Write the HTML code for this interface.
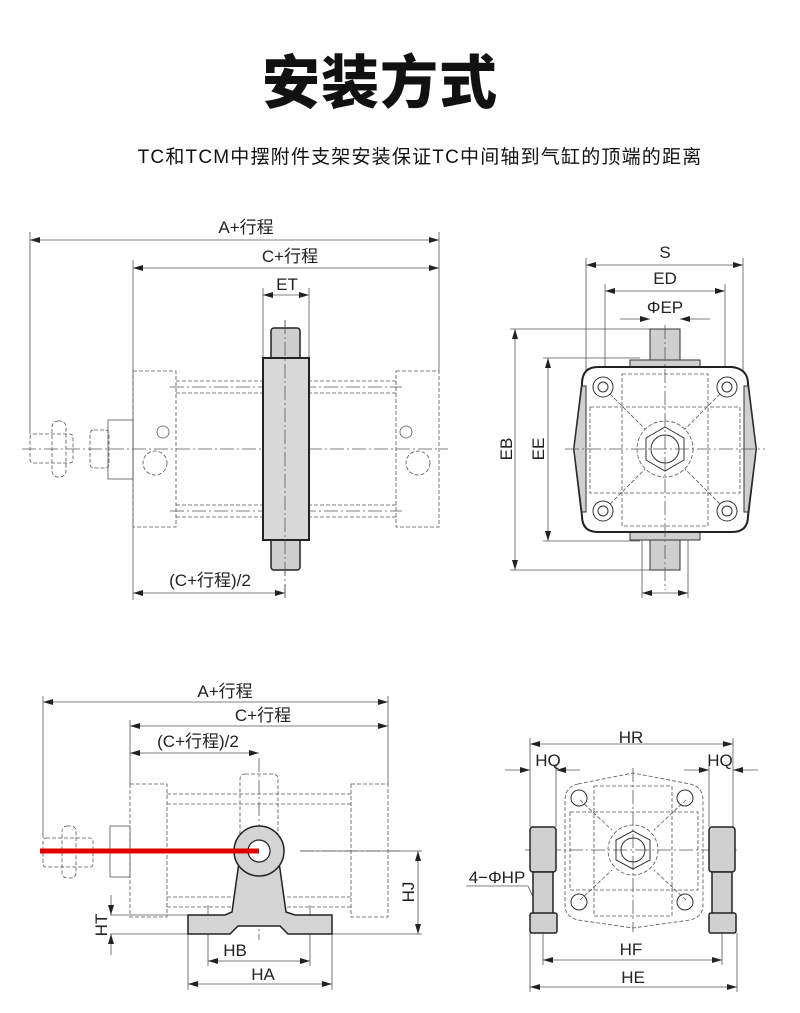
<!DOCTYPE html>
<html><head><meta charset="utf-8"><style>
html,body{margin:0;padding:0;background:#fff;}
body{width:800px;height:1013px;overflow:hidden;position:relative;font-family:"Liberation Sans","Noto Sans CJK SC",sans-serif;}
.t{position:absolute;left:-20px;width:800px;text-align:center;top:36px;font-size:58px;font-weight:900;color:#111;letter-spacing:1px;font-family:"Noto Sans CJK SC","WenQuanYi Zen Hei",sans-serif;}
.s{position:absolute;left:20px;width:800px;text-align:center;top:142px;font-size:19px;color:#111;letter-spacing:1.2px;}
svg{position:absolute;left:0;top:0}
</style></head><body>
<div class="t">安装方式</div>
<div class="s">TC和TCM中摆附件支架安装保证TC中间轴到气缸的顶端的距离</div>
<svg width="800" height="1013" viewBox="0 0 800 1013" font-family="Liberation Sans, Noto Sans CJK SC, sans-serif" font-size="17" fill="none" stroke="#333" stroke-width="1">
<defs>
<marker id="a" viewBox="0 0 10 6" refX="10" refY="3" markerWidth="10" markerHeight="6" orient="auto-start-reverse" markerUnits="userSpaceOnUse"><path d="M0,0L10,3L0,6z" fill="#222" stroke="none"/></marker>
</defs>
<g stroke="#555" stroke-width="0.8">
<line x1="30" y1="240" x2="439" y2="240" marker-start="url(#a)" marker-end="url(#a)"/>
<line x1="30" y1="232" x2="30" y2="434"/><line x1="439" y1="232" x2="439" y2="371"/>
<line x1="133" y1="268" x2="439" y2="268" marker-start="url(#a)" marker-end="url(#a)"/>
<line x1="133" y1="260" x2="133" y2="600"/>
<line x1="263" y1="288" x2="263" y2="358"/><line x1="309" y1="288" x2="309" y2="358"/>
<line x1="263" y1="295" x2="309" y2="295" marker-start="url(#a)" marker-end="url(#a)"/>
<line x1="133" y1="593" x2="285" y2="593" marker-start="url(#a)" marker-end="url(#a)"/>
<g stroke-dasharray="4,2">
<rect x="133" y="371" width="43" height="156"/><rect x="396" y="371" width="43" height="156"/>
<line x1="176" y1="381" x2="396" y2="381"/><line x1="176" y1="393" x2="396" y2="393"/>
<line x1="176" y1="505" x2="396" y2="505"/><line x1="176" y1="517" x2="396" y2="517"/>
<rect x="30" y="434" width="43" height="29" rx="3"/><rect x="52" y="421" width="14" height="56" rx="6"/>
<rect x="90" y="430" width="19" height="38" rx="4"/>
<circle cx="155" cy="463" r="12"/><circle cx="418" cy="463" r="12"/>
</g>
<rect x="108" y="420" width="25" height="59"/>
<g stroke-dasharray="14,3,2,3"><line x1="22" y1="449" x2="448" y2="449"/><line x1="285" y1="320" x2="285" y2="598"/>
<line x1="170" y1="387" x2="402" y2="387"/><line x1="170" y1="511" x2="402" y2="511"/></g>
<circle cx="163" cy="432" r="6"/><circle cx="406" cy="432" r="6"/>
</g>
<rect x="271" y="328" width="29" height="242" rx="3" fill="#cfcfcf" stroke="#222" stroke-width="1.5"/>
<rect x="263" y="358" width="46" height="182" fill="#d8d8d8" stroke="#222" stroke-width="2"/>
<line x1="285" y1="320" x2="285" y2="598" stroke="#555" stroke-dasharray="14,3,2,3" stroke-width="0.8"/>
<g fill="#222" stroke="none">
<text x="246" y="233" text-anchor="middle">A+行程</text>
<text x="290" y="262" text-anchor="middle">C+行程</text>
<text x="287" y="290" text-anchor="middle">ET</text>
<text x="210" y="586" text-anchor="middle">(C+行程)/2</text>
</g>
<g stroke="#555" stroke-width="0.8">
<line x1="586" y1="265" x2="743" y2="265" marker-start="url(#a)" marker-end="url(#a)"/>
<line x1="586" y1="258" x2="586" y2="440"/><line x1="743" y1="258" x2="743" y2="440"/>
<line x1="605" y1="291" x2="725" y2="291" marker-start="url(#a)" marker-end="url(#a)"/>
<line x1="605" y1="284" x2="605" y2="380"/><line x1="725" y1="284" x2="725" y2="380"/>
<line x1="620" y1="319" x2="650" y2="319" marker-end="url(#a)"/><line x1="710" y1="319" x2="680" y2="319" marker-end="url(#a)"/>
<line x1="510" y1="329" x2="660" y2="329"/><line x1="510" y1="570" x2="660" y2="570"/>
<line x1="515" y1="329" x2="515" y2="570" marker-start="url(#a)" marker-end="url(#a)"/>
<line x1="543" y1="358" x2="640" y2="358"/><line x1="543" y1="541" x2="640" y2="541"/>
<line x1="548" y1="358" x2="548" y2="541" marker-start="url(#a)" marker-end="url(#a)"/>
<line x1="642" y1="540" x2="642" y2="598"/><line x1="688" y1="540" x2="688" y2="598"/>
<line x1="642" y1="593" x2="688" y2="593" marker-start="url(#a)" marker-end="url(#a)"/>
</g>
<rect x="650" y="329" width="30" height="241" fill="#cfcfcf" stroke="#333"/>
<path d="M630,370 L630,360 L700,360 L700,370Z M630,530 L630,540 L700,540 L700,530Z" fill="#cfcfcf" stroke="#333"/>
<path d="M598,367 L732,367 Q748,369 748,384 L756,449 L748,516 Q748,532 732,532 L598,532 Q582,532 582,516 L574,449 L582,384 Q582,367 598,367Z" fill="#fff" stroke="#222" stroke-width="2"/>
<path d="M582,386 L574,449 L582,512 L586,512 L586,386Z M748,386 L756,449 L748,512 L744,512 L744,386Z" fill="#d0d0d0" stroke="#333"/>
<g stroke="#555" stroke-width="0.8" stroke-dasharray="4,2">
<rect x="622" y="374" width="86" height="152"/><rect x="590" y="407" width="150" height="86"/>
<circle cx="665" cy="449" r="28"/>
<line x1="610" y1="394" x2="645" y2="429"/><line x1="720" y1="394" x2="685" y2="429"/>
<line x1="610" y1="504" x2="645" y2="469"/><line x1="720" y1="504" x2="685" y2="469"/>
</g>
<g stroke="#333" stroke-width="1">
<polygon points="665,427 684,438 684,460 665,471 646,460 646,438"/>
<circle cx="665" cy="449" r="14"/>
<circle cx="603" cy="387" r="10"/><circle cx="603" cy="387" r="5"/>
<circle cx="727" cy="387" r="10"/><circle cx="727" cy="387" r="5"/>
<circle cx="603" cy="511" r="10"/><circle cx="603" cy="511" r="5"/>
<circle cx="727" cy="511" r="10"/><circle cx="727" cy="511" r="5"/>
</g>
<g stroke="#555" stroke-width="0.8" stroke-dasharray="14,3,2,3"><line x1="565" y1="449" x2="765" y2="449"/><line x1="665" y1="325" x2="665" y2="590"/></g>
<g fill="#222" stroke="none">
<text x="665" y="258" text-anchor="middle">S</text>
<text x="665" y="284" text-anchor="middle">ED</text>
<text x="665" y="313" text-anchor="middle">ΦEP</text>
<text transform="translate(512,449) rotate(-90)" text-anchor="middle">EB</text>
<text transform="translate(544,449) rotate(-90)" text-anchor="middle">EE</text>
</g>
<g stroke="#555" stroke-width="0.8">
<line x1="43" y1="702" x2="388" y2="702" marker-start="url(#a)" marker-end="url(#a)"/>
<line x1="43" y1="696" x2="43" y2="838"/><line x1="388" y1="696" x2="388" y2="784"/>
<line x1="130" y1="726" x2="388" y2="726" marker-start="url(#a)" marker-end="url(#a)"/>
<line x1="130" y1="720" x2="130" y2="784"/>
<line x1="130" y1="753" x2="259" y2="753" marker-start="url(#a)" marker-end="url(#a)"/>
<line x1="110" y1="915" x2="188" y2="915"/><line x1="110" y1="934" x2="188" y2="934"/>
<line x1="111" y1="895" x2="111" y2="915" marker-end="url(#a)"/><line x1="111" y1="955" x2="111" y2="934" marker-end="url(#a)"/>
<line x1="332" y1="934" x2="422" y2="934"/><line x1="300" y1="851" x2="422" y2="851"/>
<line x1="418" y1="851" x2="418" y2="934" marker-start="url(#a)" marker-end="url(#a)"/>
<line x1="208" y1="905" x2="208" y2="966"/><line x1="310" y1="905" x2="310" y2="966"/>
<line x1="208" y1="961" x2="310" y2="961" marker-start="url(#a)" marker-end="url(#a)"/>
<line x1="188" y1="934" x2="188" y2="990"/><line x1="332" y1="934" x2="332" y2="990"/>
<line x1="188" y1="984" x2="332" y2="984" marker-start="url(#a)" marker-end="url(#a)"/>
<g stroke-dasharray="4,2">
<rect x="130" y="784" width="37" height="133"/><rect x="351" y="784" width="37" height="133"/>
<line x1="167" y1="794" x2="351" y2="794"/><line x1="167" y1="804" x2="351" y2="804"/>
<line x1="167" y1="897" x2="351" y2="897"/><line x1="167" y1="907" x2="351" y2="907"/>
<rect x="240" y="774" width="38" height="70" rx="5"/>
<rect x="43" y="838" width="50" height="29" rx="3"/><rect x="62" y="826" width="14" height="52" rx="5"/>
</g>
<rect x="110" y="826" width="20" height="51"/>
<g stroke-dasharray="14,3,2,3"><line x1="259" y1="758" x2="259" y2="940"/><line x1="300" y1="851" x2="400" y2="851"/></g>
</g>
<path d="M232,912 L240,855 L278,855 L286,912 L295,915 L332,915 L332,934 L288,934 L280,926 L238,926 L230,934 L188,934 L188,915 L225,915Z" fill="#d4d4d4" stroke="#222" stroke-width="1.5"/>
<circle cx="259" cy="851" r="25" fill="#d4d4d4" stroke="#222" stroke-width="1.5"/>
<circle cx="259" cy="851" r="11" fill="#fff" stroke="#222" stroke-width="1.2"/>
<line x1="40" y1="851" x2="259" y2="851" stroke="#e00000" stroke-width="5"/>
<g fill="#222" stroke="none">
<text x="225" y="697" text-anchor="middle">A+行程</text>
<text x="263" y="721" text-anchor="middle">C+行程</text>
<text x="198" y="747" text-anchor="middle">(C+行程)/2</text>
<text x="235" y="956" text-anchor="middle">HB</text>
<text x="263" y="980" text-anchor="middle">HA</text>
<text transform="translate(107,925) rotate(-90)" text-anchor="middle">HT</text>
<text transform="translate(414,892) rotate(-90)" text-anchor="middle">HJ</text>
</g>
<g stroke="#555" stroke-width="0.8">
<line x1="530" y1="744" x2="733" y2="744" marker-start="url(#a)" marker-end="url(#a)"/>
<line x1="530" y1="738" x2="530" y2="827"/><line x1="733" y1="738" x2="733" y2="827"/>
<line x1="556" y1="765" x2="556" y2="827"/><line x1="709" y1="765" x2="709" y2="827"/>
<line x1="505" y1="770" x2="530" y2="770" marker-end="url(#a)"/><line x1="580" y1="770" x2="556" y2="770" marker-end="url(#a)"/>
<line x1="684" y1="770" x2="709" y2="770" marker-end="url(#a)"/><line x1="758" y1="770" x2="733" y2="770" marker-end="url(#a)"/>
<line x1="543" y1="933" x2="543" y2="965"/><line x1="722" y1="933" x2="722" y2="965"/>
<line x1="543" y1="960" x2="722" y2="960" marker-start="url(#a)" marker-end="url(#a)"/>
<line x1="530" y1="933" x2="530" y2="992"/><line x1="737" y1="933" x2="737" y2="992"/>
<line x1="530" y1="987" x2="737" y2="987" marker-start="url(#a)" marker-end="url(#a)"/>
<line x1="466" y1="886" x2="528" y2="886"/><line x1="528" y1="886" x2="540" y2="912" marker-end="url(#a)"/>
<g stroke-dasharray="4,2">
<path d="M578,784 L633,773 L690,784 Q703,787 703,800 L703,905 Q703,917 690,920 L633,928 L578,920 Q565,917 565,905 L565,800 Q565,787 578,784Z"/>
<rect x="594" y="786" width="78" height="130"/><rect x="570" y="812" width="128" height="78"/>
<circle cx="633" cy="850" r="25"/>
<line x1="580" y1="800" x2="612" y2="830"/><line x1="686" y1="800" x2="654" y2="830"/>
<line x1="580" y1="900" x2="612" y2="870"/><line x1="686" y1="900" x2="654" y2="870"/>
</g>
<g stroke-dasharray="14,3,2,3"><line x1="525" y1="850" x2="740" y2="850"/><line x1="633" y1="768" x2="633" y2="932"/></g>
</g>
<g stroke="#333">
<polygon points="633,831 650,840 650,860 633,869 616,860 616,840"/>
<circle cx="633" cy="850" r="12"/>
<circle cx="579" cy="798" r="8"/><circle cx="685" cy="798" r="8"/>
<circle cx="579" cy="902" r="8"/><circle cx="685" cy="902" r="8"/>
</g>
<g fill="#d0d0d0" stroke="#222" stroke-width="1.5">
<rect x="530" y="827" width="26" height="45" rx="3"/><rect x="533" y="872" width="20" height="42"/><rect x="530" y="913" width="27" height="20" rx="2"/>
<rect x="709" y="827" width="26" height="45" rx="3"/><rect x="712" y="872" width="20" height="42"/><rect x="709" y="913" width="27" height="20" rx="2"/>
</g>
<g fill="#222" stroke="none">
<text x="631" y="743" text-anchor="middle">HR</text>
<text x="548" y="766" text-anchor="middle">HQ</text>
<text x="720" y="766" text-anchor="middle">HQ</text>
<text x="497" y="883" text-anchor="middle">4−ΦHP</text>
<text x="631" y="955" text-anchor="middle">HF</text>
<text x="633" y="983" text-anchor="middle">HE</text>
</g>
</svg>
</body></html>
